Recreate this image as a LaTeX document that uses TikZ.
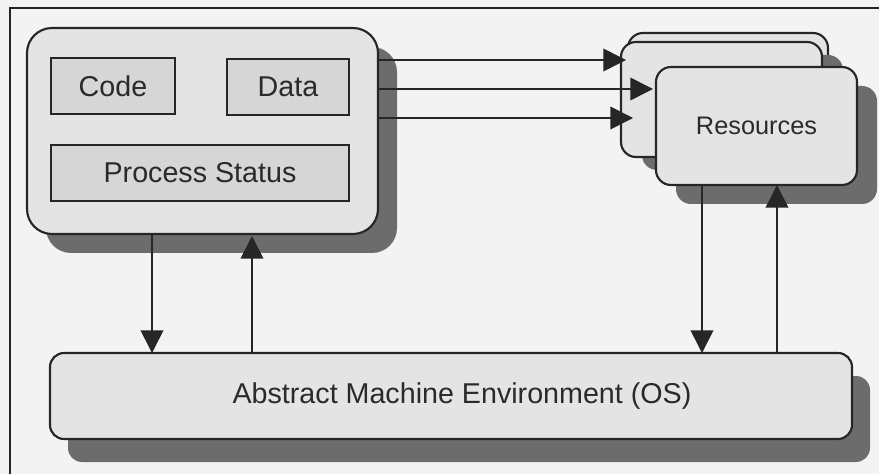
\documentclass[tikz,border=0pt]{standalone}
\usepackage{fontspec}
\setmainfont{Liberation Sans}
\usetikzlibrary{arrows.meta,shadows,calc}

\newlength\pxu
\setlength\pxu{0.75pt}

\definecolor{paper}{HTML}{F3F3F3}
\definecolor{ink}{HTML}{262626}
\definecolor{txt}{HTML}{2A2A2A}
\definecolor{boxfill}{HTML}{E4E4E4}
\definecolor{innerfill}{HTML}{D6D6D6}
\definecolor{shade}{HTML}{6C6C6C}

\tikzset{
  card/.style={draw=ink, line width=1.6pt, fill=boxfill, inner sep=0pt, outer sep=0pt,
    text=txt, font=\fontsize{21.5}{24}\selectfont},
  inner box/.style={draw=ink, line width=1.5pt, fill=innerfill, inner sep=0pt, outer sep=0pt,
    text=txt, font=\fontsize{21.5}{24}\selectfont},
  shadowed/.style 2 args={drop shadow={shadow xshift=#1\pxu, shadow yshift=-#2\pxu,
    fill=shade, draw=none, opacity=1}},
  flow/.style={draw=ink, line width=1.2pt,
    -{Triangle[length=17pt, width=17pt]}, shorten >=0pt},
  frameline/.style={draw=ink, line width=0.9pt}
}

\begin{document}
\begin{tikzpicture}[x=0.75pt, y=-0.75pt]
  % page
  \fill[paper] (0,0) rectangle (879,474);
  \useasboundingbox (0,0) rectangle (879,474);
  \coordinate (frametop) at (879,8);
  \coordinate (framecorner) at (10,8);
  \coordinate (framebottom) at (10,474);
  \draw[frameline] (frametop) -- (framecorner) -- (framebottom);

  % process with its parts
  \node[card, rounded corners=25\pxu, shadowed={19}{19},
        minimum width=351\pxu, minimum height=206\pxu] (proc) at (202.5,131) {};
  \node[inner box, minimum width=124\pxu, minimum height=56\pxu] (code) at (113,86) {Code};
  \node[inner box, minimum width=122\pxu, minimum height=56\pxu] (data) at (288,87) {Data};
  \node[inner box, minimum width=298\pxu, minimum height=56\pxu] (status) at (200,173) {Process Status};

  % stack of resources
  \node[card, rounded corners=15\pxu,
        minimum width=200\pxu, minimum height=115\pxu] (resA) at (728,90.5) {};
  \node[card, rounded corners=15\pxu, shadowed={21}{13},
        minimum width=201\pxu, minimum height=115\pxu] (resB) at (721.5,99.5) {};
  \node[card, rounded corners=15\pxu, shadowed={20}{19},
        minimum width=201\pxu, minimum height=118\pxu,
        font=\fontsize{19}{22}\selectfont] (res) at (756.5,126) {Resources};

  % operating system
  \node[card, rounded corners=14\pxu, shadowed={18}{23},
        minimum width=802\pxu, minimum height=86\pxu] (os) at (451,396)
        {\hspace*{22\pxu}Abstract Machine Environment (OS)};

  % process to resources
  \draw[flow] (proc.east |- 0,60) -- ([xshift=5\pxu]resB.west |- 0,60);
  \draw[flow] (proc.east |- 0,89) -- ([xshift=-3\pxu]res.west |- 0,89);
  \draw[flow] (proc.east |- 0,118) -- ([xshift=12\pxu]resB.west |- 0,118);

  % process and resources with the OS
  \draw[flow] (proc.south -| 152,0) -- (os.north -| 152,0);
  \draw[flow] (os.north -| 252,0) -- ([yshift=-2\pxu]proc.south -| 252,0);
  \draw[flow] (res.south -| 702,0) -- (os.north -| 702,0);
  \draw[flow] (os.north -| 777,0) -- (res.south -| 777,0);
\end{tikzpicture}
\end{document}
